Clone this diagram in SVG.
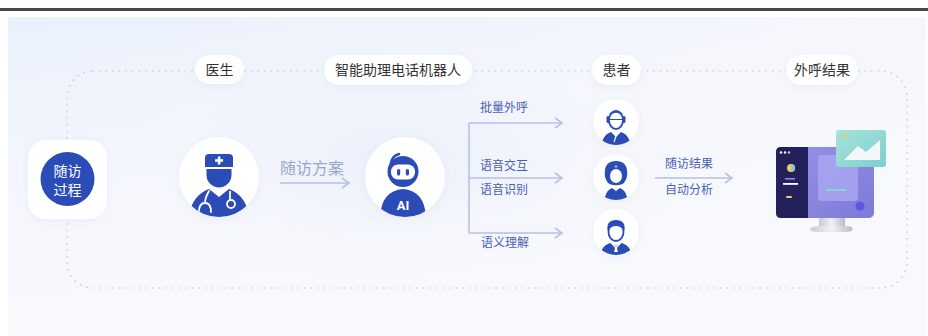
<svg xmlns="http://www.w3.org/2000/svg" width="928" height="336" viewBox="0 0 928 336">
  <defs>
    <style>
      .cjk { font-family: "Noto Sans CJK SC", "Noto Sans", sans-serif; }
      .pill-text { font-size: 14px; fill: #333; text-anchor: middle; }
      .branch { font-size: 12px; fill: #4b5fb3; }
      .flow { stroke: #b7c0e4; stroke-width: 1.6; fill: none; }
      .blue { fill: #2b4bb6; }
      .card { fill: #ffffff; filter: url(#soft); }
    </style>
    <linearGradient id="bg" x1="0" y1="0" x2="1" y2="0.6">
      <stop offset="0" stop-color="#e9f0fc"/>
      <stop offset="0.5" stop-color="#f2f5fc"/>
      <stop offset="1" stop-color="#f8f9fd"/>
    </linearGradient>
    <linearGradient id="fade" x1="0" y1="0" x2="0" y2="1">
      <stop offset="0" stop-color="#f8f9fd" stop-opacity="0"/>
      <stop offset="1" stop-color="#f8f9fd" stop-opacity="1"/>
    </linearGradient>
    <radialGradient id="glow" cx="0.45" cy="0.45" r="0.5">
      <stop offset="0" stop-color="#e9effb" stop-opacity="0.9"/>
      <stop offset="1" stop-color="#f4f6fc" stop-opacity="0"/>
    </radialGradient>
    <filter id="soft" x="-30%" y="-30%" width="160%" height="160%">
      <feDropShadow dx="0" dy="2" stdDeviation="3" flood-color="#6b7bb0" flood-opacity="0.08"/>
    </filter>
    <marker id="chev" markerWidth="10" markerHeight="12" refX="8" refY="6" orient="auto" markerUnits="userSpaceOnUse">
      <path d="M1,1 L8,6 L1,11" fill="none" stroke="#b7c0e4" stroke-width="1.6"/>
    </marker>
    <clipPath id="clipDoc"><circle cx="219" cy="177" r="40"/></clipPath>
    <clipPath id="clipBot"><circle cx="405" cy="177" r="40"/></clipPath>
    <clipPath id="clipP1"><circle cx="616" cy="122" r="23"/></clipPath>
    <clipPath id="clipP2"><circle cx="616" cy="177" r="23"/></clipPath>
    <clipPath id="clipP3"><circle cx="616" cy="232" r="23"/></clipPath>
    <linearGradient id="screen" x1="0" y1="0" x2="1" y2="1">
      <stop offset="0" stop-color="#9792ea"/>
      <stop offset="1" stop-color="#7e7ad8"/>
    </linearGradient>
    <linearGradient id="stand" x1="0" y1="0" x2="1" y2="0">
      <stop offset="0" stop-color="#c9cad3"/>
      <stop offset="0.5" stop-color="#f1f1f5"/>
      <stop offset="1" stop-color="#b9bac6"/>
    </linearGradient>
    <linearGradient id="teal" x1="0" y1="0" x2="1" y2="1">
      <stop offset="0" stop-color="#a6e3de"/>
      <stop offset="1" stop-color="#7dcfcb"/>
    </linearGradient>
  </defs>

  <!-- page and panel -->
  <rect x="0" y="0" width="928" height="336" fill="#ffffff"/>
  <rect x="0" y="8" width="928" height="3" fill="#484848"/>
  <rect x="8" y="17" width="918" height="319" fill="url(#bg)"/>
  <rect x="8" y="17" width="918" height="319" fill="url(#fade)"/>
  <rect x="120" y="40" width="600" height="260" fill="url(#glow)"/>

  <!-- dotted frame -->
  <rect x="67" y="71" width="840" height="217" rx="26" fill="none" stroke="#c6cbd8" stroke-width="1.6" stroke-linecap="round" stroke-dasharray="0.1 6.5"/>

  <!-- connectors -->
  <g id="connectors">
    <line class="flow" x1="280" y1="183" x2="349" y2="183" marker-end="url(#chev)"/>
    <line class="flow" x1="469" y1="123" x2="469" y2="233"/>
    <line class="flow" x1="469" y1="123" x2="562" y2="123" marker-end="url(#chev)"/>
    <line class="flow" x1="469" y1="178" x2="562" y2="178" marker-end="url(#chev)"/>
    <line class="flow" x1="469" y1="233" x2="562" y2="233" marker-end="url(#chev)"/>
    <line class="flow" x1="655" y1="178" x2="732" y2="178" marker-end="url(#chev)"/>
    <text class="cjk" x="280" y="174" font-size="16" fill="#9ba6cc">随访方案</text>
    <text class="cjk branch" x="480" y="112">批量外呼</text>
    <text class="cjk branch" x="480" y="170">语音交互</text>
    <text class="cjk branch" x="480" y="194">语音识别</text>
    <text class="cjk branch" x="481" y="247">语义理解</text>
    <text class="cjk branch" x="665" y="168">随访结果</text>
    <text class="cjk branch" x="665" y="194">自动分析</text>
  </g>

  <!-- column labels -->
  <g id="label-doctor">
    <rect class="card" x="195" y="55" width="49" height="29" rx="14.5"/>
    <text class="cjk pill-text" x="219.5" y="75">医生</text>
  </g>
  <g id="label-robot">
    <rect class="card" x="324" y="55" width="148" height="30" rx="15"/>
    <text class="cjk pill-text" x="398" y="75">智能助理电话机器人</text>
  </g>
  <g id="label-patient">
    <rect class="card" x="592" y="55" width="49" height="30" rx="15"/>
    <text class="cjk pill-text" x="616.5" y="75">患者</text>
  </g>
  <g id="label-result">
    <rect class="card" x="786" y="55" width="72" height="30" rx="15"/>
    <text class="cjk pill-text" x="822" y="75">外呼结果</text>
  </g>

  <!-- start node -->
  <g id="node-process">
    <rect class="card" x="28" y="140" width="79" height="79" rx="18"/>
    <circle class="blue" cx="67.5" cy="179" r="27"/>
    <text class="cjk" font-size="14" fill="#ffffff" text-anchor="middle"><tspan x="67.5" y="176">随访</tspan><tspan x="67.5" y="195">过程</tspan></text>
  </g>

  <!-- doctor -->
  <g id="node-doctor">
    <circle class="card" cx="219" cy="177" r="40"/>
    <g clip-path="url(#clipDoc)">
      <path class="blue" d="M205,158 Q205,154 209,154 H229 Q233,154 233,158 V167 H205 Z"/>
      <rect x="217.8" y="156.5" width="2.6" height="8" fill="#fff"/>
      <rect x="215.1" y="159.2" width="8" height="2.6" fill="#fff"/>
      <path class="blue" d="M206.5,169 H231.5 V175 A12.5,12.5 0 0 1 206.5,175 Z"/>
      <path class="blue" d="M188,222 Q190,196 209,189 L219,197 L229,189 Q248,196 250,222 Z"/>
      <path d="M209,191 Q205,198 205,203 M205,203 Q199,203 199,212 M205,203 Q211,203 211,212" fill="none" stroke="#fff" stroke-width="1.8" stroke-linecap="round"/>
      <path d="M230,191 V200" fill="none" stroke="#fff" stroke-width="1.8"/>
      <circle cx="231" cy="204" r="4" fill="#2b4bb6" stroke="#fff" stroke-width="1.8"/>
    </g>
  </g>

  <!-- robot -->
  <g id="node-robot">
    <circle class="card" cx="405" cy="177" r="40"/>
    <g clip-path="url(#clipBot)">
      <path d="M391,163 Q392,156 399,154" fill="none" stroke="#2b4bb6" stroke-width="2.6" stroke-linecap="round"/>
      <circle class="blue" cx="403" cy="171.5" r="15.5"/>
      <rect x="391" y="164.5" width="24" height="15" rx="7" fill="#fff"/>
      <rect x="397" y="169" width="3.2" height="6.5" rx="1.6" fill="#2b4bb6"/>
      <rect x="405.8" y="169" width="3.2" height="6.5" rx="1.6" fill="#2b4bb6"/>
      <path class="blue" d="M380,220 Q380,191 403,189 Q426,191 426,220 Z"/>
      <text x="403" y="210" font-family="Roboto, 'Liberation Sans', sans-serif" font-size="13" font-weight="bold" fill="#fff" text-anchor="middle">AI</text>
    </g>
  </g>

  <!-- patients -->
  <g id="node-patient-1">
    <circle class="card" cx="616" cy="122" r="23"/>
    <g clip-path="url(#clipP1)">
      <path class="blue" d="M601,150 Q601,135 611,132 L616,137 L621,132 Q631,135 631,150 Z"/>
      <path d="M616,136 L614,142" stroke="#fff" stroke-width="1.2"/>
      <ellipse cx="616" cy="120" rx="7" ry="9" fill="#fff" stroke="#2b4bb6" stroke-width="1.8"/>
      <path d="M610,114 Q616,110 622,114" fill="none" stroke="#2b4bb6" stroke-width="1.6"/>
      <rect x="606.5" y="116" width="3" height="7" rx="1.5" fill="#2b4bb6"/>
      <rect x="622.5" y="116" width="3" height="7" rx="1.5" fill="#2b4bb6"/>
      <path d="M609,119.5 H623" stroke="#2b4bb6" stroke-width="1.2"/>
    </g>
  </g>
  <g id="node-patient-2">
    <circle class="card" cx="616" cy="177" r="23"/>
    <g clip-path="url(#clipP2)">
      <path class="blue" d="M604,205 Q604,191 612,188 L616,191 L620,188 Q628,191 628,205 Z"/>
      <path class="blue" d="M616,161 C623,161 627,165 627,171 C628,176 626,180 624,183 C620,186 612,186 608,183 C606,180 604,176 605,171 C605,165 609,161 616,161 Z"/>
      <ellipse cx="616" cy="176" rx="6" ry="7" fill="#fff"/>
      <circle cx="616" cy="166.5" r="1.3" fill="#9fb0e3"/>
      <path d="M607,186 Q604,190 605,196 M625,186 Q628,190 627,196" fill="none" stroke="#fff" stroke-width="1"/>
    </g>
  </g>
  <g id="node-patient-3">
    <circle class="card" cx="616" cy="232" r="23"/>
    <g clip-path="url(#clipP3)">
      <path class="blue" d="M599,260 Q600,246 610,243 L616,246 L622,243 Q632,246 633,260 Z"/>
      <path d="M612,243.5 L616,248 L620,243.5" fill="none" stroke="#fff" stroke-width="1.4"/>
      <path d="M615,248 H617 L617.8,252 H614.2 Z" fill="#fff"/>
      <ellipse cx="616" cy="232" rx="7.5" ry="9" fill="#fff" stroke="#2b4bb6" stroke-width="1.8"/>
      <path class="blue" d="M607.5,231 Q606,220 616,220 Q626,220 624.5,231 Q621,226 616,226 Q611,226 607.5,231 Z"/>
    </g>
  </g>

  <!-- result: analytics screen -->
  <g id="node-result">
    <rect x="819" y="212" width="26" height="16" fill="url(#stand)"/>
    <path d="M810,229 Q812,226 820,226 H846 Q852,226 853,229 Q852,232 846,232 H816 Q811,232 810,229 Z" fill="url(#stand)"/>
    <rect x="776" y="147" width="98" height="71" rx="5" fill="url(#screen)"/>
    <path d="M781,147 H808 V218 H781 Q776,218 776,213 V152 Q776,147 781,147 Z" fill="#24205a"/>
    <circle cx="781" cy="152.5" r="1.2" fill="#fff"/>
    <circle cx="785" cy="152.5" r="1.2" fill="#fff"/>
    <circle cx="789" cy="152.5" r="1.2" fill="#c8c6f0"/>
    <circle cx="791" cy="168" r="4" fill="#f5c766"/>
    <path d="M791,164 A4,4 0 0 1 791,172 Z" fill="#7fd3cf"/>
    <rect x="785" y="178" width="10" height="1.6" fill="#8c88e6"/>
    <rect x="783" y="183" width="15" height="1.8" fill="#ffffff"/>
    <rect x="786" y="196" width="6" height="2" rx="1" fill="#f5c766"/>
    <rect x="818" y="155" width="40" height="46" rx="3" fill="#b2aff2" opacity="0.65"/>
    <rect x="826" y="189" width="20" height="2" fill="#7fd6d3"/>
    <circle cx="860" cy="206" r="4.5" fill="#5c56db"/>
    <rect x="836" y="130" width="50" height="37" rx="3" fill="url(#teal)"/>
    <path d="M844,160 L858,146 L866,152 L880,140 V160 Z" fill="#f3f7f8"/>
    <rect x="841" y="135" width="8" height="2" rx="1" fill="#f2c45b"/>
  </g>
</svg>
